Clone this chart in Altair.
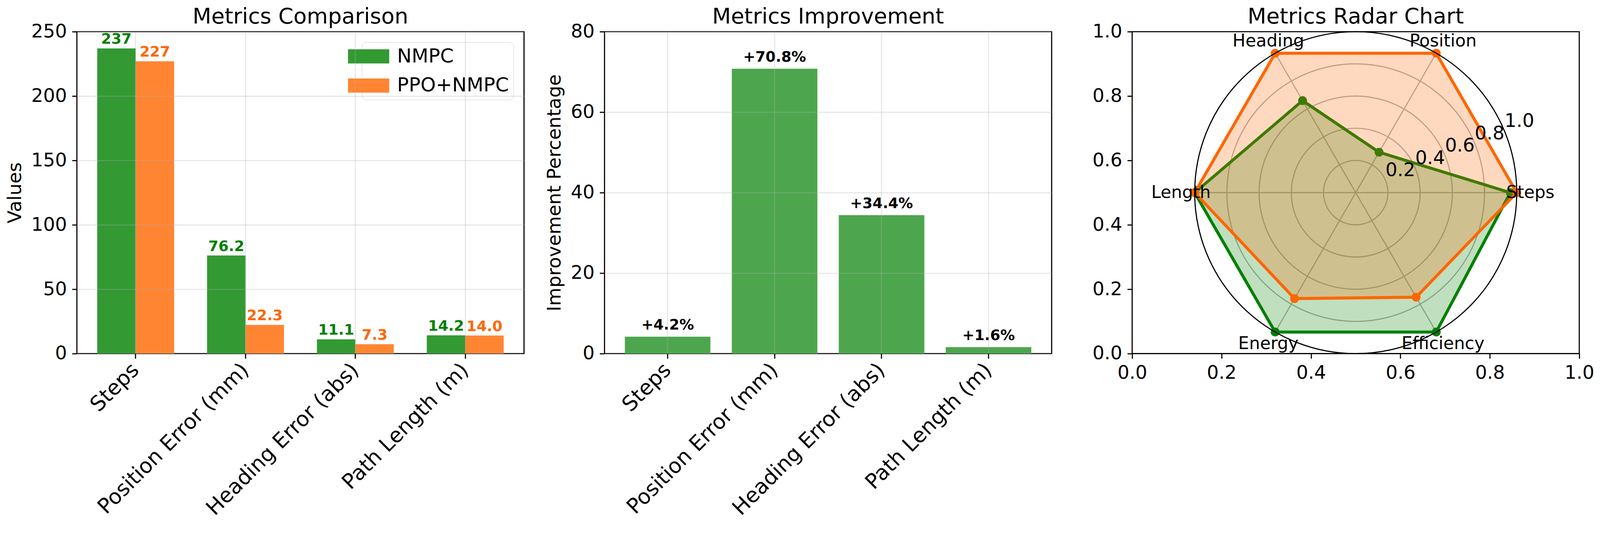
import math
import altair as alt
import pandas as pd

# ---------------- data ----------------
metrics = ["Steps", "Position Error (mm)", "Heading Error (abs)", "Path Length (m)"]
series = ["NMPC", "PPO+NMPC"]
nmpc_values = [237, 76.2, 11.1, 14.2]
ppo_values = [227, 22.3, 7.3, 14.0]
improvement = [4.2, 70.8, 34.4, 1.6]

radar_axes = ["Steps", "Position", "Heading", "Length", "Energy", "Efficiency"]
radar_nmpc = [0.96, 0.29, 0.66, 1.0, 1.0, 1.0]
radar_ppo = [1.0, 1.0, 1.0, 1.0, 0.76, 0.75]
radial_ticks = [0.2, 0.4, 0.6, 0.8]
radial_labels = [0.2, 0.4, 0.6, 0.8, 1.0]
y_ticks_comp = [0, 50, 100, 150, 200, 250]
y_ticks_impr = [0, 20, 40, 60, 80]
frame_ticks = [0.0, 0.2, 0.4, 0.6, 0.8, 1.0]

# ---------------- styles ----------------
FONT = "DejaVu Sans"
bar_colors = ["#339933", "#FF8533"]
text_colors = ["#008000", "#FF6600"]
impr_color = "#4DA64D"
line_colors = ["#008000", "#FF6600"]
W, H = 1194, 860
R = H / 2
XR = W / H

comp_df = pd.DataFrame({
    "metric": metrics * 2,
    "series": [series[0]] * len(metrics) + [series[1]] * len(metrics),
    "value": nmpc_values + ppo_values,
})
impr_df = pd.DataFrame({"metric": metrics, "improvement": improvement})


def band_axis():
    return alt.Axis(title=None, labelAngle=-45, labelAlign="right", labelBaseline="middle",
                    labelFontSize=56, grid=True, bandPosition=0.5, zindex=1,
                    labelPadding=22, labelOffset=0, labelLimit=0)


def title(text):
    return alt.Title(text, frame="group", offset=-15)


# ---------------- panel 1 ----------------
x1 = alt.X("metric:N", sort=metrics,
           scale=alt.Scale(paddingInner=0.3, paddingOuter=0.185), axis=band_axis())
xo = alt.XOffset("series:N", sort=series, scale=alt.Scale(paddingInner=0, paddingOuter=0))
y1 = alt.Y("value:Q", scale=alt.Scale(domain=[0, 250], nice=False),
           axis=alt.Axis(title="Values", values=y_ticks_comp, grid=True, zindex=1))

legend = alt.Legend(
    title=None, orient="top-right", offset=28, fillColor="rgba(255,255,255,0.8)",
    strokeColor="#cccccc", cornerRadius=12, padding=12,
    symbolType="M-2.895,-1H2.895V1H-2.895Z", symbolSize=1444, symbolStrokeWidth=0,
    symbolOffset=-20, symbolOpacity=1, labelFontSize=52, labelOffset=50, rowPadding=26,
    labelFont=FONT, labelLimit=0,
)
bars1 = alt.Chart(comp_df).mark_bar().encode(
    x=x1, xOffset=xo, y=y1,
    color=alt.Color("series:N", sort=series, scale=alt.Scale(domain=series, range=bar_colors), legend=legend),
)
text1 = alt.Chart(comp_df).transform_calculate(
    label="datum.value >= 100 ? format(datum.value, '.0f') : format(datum.value, '.1f')"
).mark_text(fontWeight="bold", fontSize=39, baseline="alphabetic", dy=-12).encode(
    x=alt.X("metric:N", sort=metrics),
    xOffset=alt.XOffset("series:N", sort=series),
    y="value:Q",
    text="label:N",
    color=alt.Color("series:N", scale=alt.Scale(domain=series, range=text_colors), legend=None),
)
panel1 = alt.layer(bars1, text1).resolve_scale(color="independent").properties(
    width=W, height=H, title=title("Metrics Comparison"))

# ---------------- panel 2 ----------------
x2 = alt.X("metric:N", sort=metrics,
           scale=alt.Scale(paddingInner=0.2, paddingOuter=0.19), axis=band_axis())
y2 = alt.Y("improvement:Q", scale=alt.Scale(domain=[0, 80], nice=False),
           axis=alt.Axis(title="Improvement Percentage", values=y_ticks_impr, grid=True, zindex=1))
bars2 = alt.Chart(impr_df).mark_bar(color=impr_color).encode(x=x2, y=y2)
text2 = alt.Chart(impr_df).transform_calculate(
    label="'+' + format(datum.improvement, '.1f') + '%'"
).mark_text(fontWeight="bold", fontSize=39, baseline="alphabetic", dy=-19, color="black").encode(
    x=alt.X("metric:N", sort=metrics), y="improvement:Q", text="label:N")
panel2 = alt.layer(bars2, text2).properties(width=W, height=H, title=title("Metrics Improvement"))

# ---------------- panel 3 (radar) ----------------
n = len(radar_axes)
theta_expr = f"datum.idx * 2 * PI / {n}"
psx = alt.Scale(domain=[-XR, XR], nice=False, zero=False)
psy = alt.Scale(domain=[-1, 1], nice=False, zero=False)


def PX(f):
    return alt.X(f, type="quantitative", scale=psx, axis=None)


def PY(f):
    return alt.Y(f, type="quantitative", scale=psy, axis=None)


frame = alt.Chart(pd.DataFrame({"t": frame_ticks})).mark_point(opacity=0).encode(
    x=alt.X("t:Q", scale=alt.Scale(domain=[0, 1], nice=False),
            axis=alt.Axis(title=None, values=frame_ticks, format=".1f", grid=False)),
    y=alt.Y("t:Q", scale=alt.Scale(domain=[0, 1], nice=False),
            axis=alt.Axis(title=None, values=frame_ticks, format=".1f", grid=False)),
)

rscale = alt.Scale(type="linear", domain=[0, 1], range=[0, R], zero=True)
rings = alt.Chart(pd.DataFrame({"r": radial_ticks})).mark_arc(
    theta=0, theta2=2 * math.pi, filled=False, color="#b0b0b0", strokeWidth=3
).encode(radius=alt.Radius("r:Q", scale=rscale, stack=None))
outer = alt.Chart(pd.DataFrame({"r": [radial_labels[-1]]})).mark_arc(
    theta=0, theta2=2 * math.pi, filled=False, color="black", strokeWidth=3
).encode(radius=alt.Radius("r:Q", scale=rscale, stack=None))

axes_df = pd.DataFrame({"axis": radar_axes, "idx": list(range(n))})
spokes = alt.Chart(axes_df).transform_calculate(
    theta=theta_expr, x0="0", y0="0", x1="cos(datum.theta)", y1="sin(datum.theta)"
).mark_rule(color="#b0b0b0", strokeWidth=3).encode(
    x=PX("x0"), y=PY("y0"), x2="x1:Q", y2="y1:Q")

rows = []
for s, vals in zip(series, [radar_nmpc, radar_ppo]):
    for i, v in enumerate(vals + vals[:1]):
        rows.append({"series": s, "idx": i, "v": v})
radar_df = pd.DataFrame(rows)


def poly(sname, color):
    base = alt.Chart(radar_df).transform_filter(alt.datum.series == sname).transform_calculate(
        theta=theta_expr, cx="datum.v * cos(datum.theta)", cy="datum.v * sin(datum.theta)")
    shape = base.mark_line(fill=color, fillOpacity=0.25, stroke=color, strokeWidth=8,
                           strokeJoin="round").encode(x=PX("cx"), y=PY("cy"), order="idx:Q")
    pts = base.transform_filter(f"datum.idx < {n}").mark_circle(
        size=560, color=color, opacity=1).encode(x=PX("cx"), y=PY("cy"))
    return [shape, pts]


LR = 1.085
tlabels = alt.Chart(axes_df).transform_calculate(
    theta=theta_expr, lx=f"{LR} * cos(datum.theta)", ly=f"{LR} * sin(datum.theta)"
).mark_text(fontSize=46, align="center", baseline="middle", color="black").encode(
    x=PX("lx"), y=PY("ly"), text="axis:N")

rlabels = alt.Chart(pd.DataFrame({"r": radial_labels})).transform_calculate(
    lx="datum.r * cos(PI / 8)", ly="datum.r * sin(PI / 8)", lab="format(datum.r, '.1f')"
).mark_text(fontSize=50, align="left", baseline="alphabetic", dy=-11, color="black").encode(
    x=PX("lx"), y=PY("ly"), text="lab:N")

layers3 = [frame, rings, spokes] + poly(series[0], line_colors[0]) + poly(series[1], line_colors[1]) + [outer, tlabels, rlabels]
panel3 = alt.layer(*layers3).resolve_scale(x="independent", y="independent").properties(
    width=W, height=H, title=title("Metrics Radar Chart"))

chart = alt.hconcat(panel1, panel2, panel3, spacing=215, bounds="flush").properties(
    padding={"left": 6, "top": -23, "right": 5, "bottom": 5}
).configure(font=FONT).configure_view(stroke="black", strokeWidth=3).configure_axis(
    labelFont=FONT, titleFont=FONT, labelFontSize=50, titleFontSize=50, titleFontWeight="normal",
    labelColor="black", titleColor="black", domain=False, tickColor="black", tickWidth=3,
    tickSize=13, labelPadding=14, titlePadding=17, gridColor="#b0b0b0", gridOpacity=0.3,
    gridWidth=3, labelFlush=False, labelOverlap=False, labelBound=False,
).configure_title(font=FONT, fontSize=58, fontWeight="normal", color="black")

chart.save("out.html", embed_options={"renderer": "svg", "actions": False})
